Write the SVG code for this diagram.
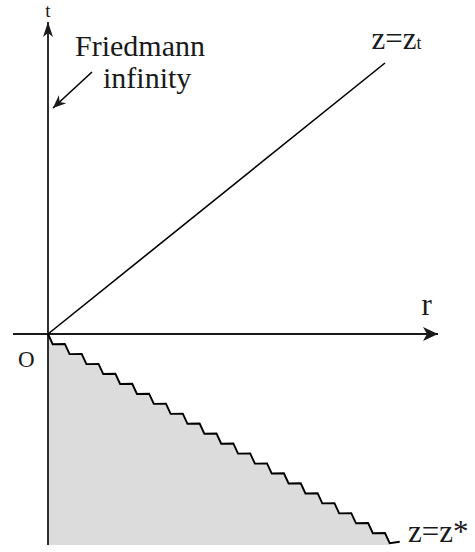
<svg xmlns="http://www.w3.org/2000/svg" width="475" height="552" viewBox="0 0 475 552">
<style>
.ax{stroke:#1a1a1a;stroke-width:1.8;fill:none}
.ln{stroke:#000;stroke-width:1.6;fill:none}
.zz{stroke:#000;stroke-width:1.9;fill:none;stroke-linejoin:miter}
.lab{font-family:"Liberation Serif","Times New Roman",serif;fill:#1a1a1a}
</style>
<defs>
<marker id="ahV" markerUnits="userSpaceOnUse" viewBox="-16 -8 17 16" refX="0" refY="0" markerWidth="17" markerHeight="16" orient="auto">
<path d="M0,0 L-15,-5 L-11,0 L-15,5 Z" fill="#1a1a1a"/>
</marker>
<marker id="ahH" markerUnits="userSpaceOnUse" viewBox="-16 -8 17 16" refX="0" refY="0" markerWidth="17" markerHeight="16" orient="auto">
<path d="M0,0 L-15,-7 L-11,0 L-15,7 Z" fill="#1a1a1a"/>
</marker>
<marker id="ahS" markerUnits="userSpaceOnUse" viewBox="-14 -7 15 14" refX="0" refY="0" markerWidth="15" markerHeight="14" orient="auto">
<path d="M0,0 L-13,-5.5 L-9,0 L-13,5.5 Z" fill="#1a1a1a"/>
</marker>
</defs>

<g id="region">
<path fill="#dcdcdc" stroke="none" d="M48,334 l4.7,10.2 12.15,-0.25 4.7,10.2 12.15,-0.25 4.7,10.2 12.15,-0.25 4.7,10.2 12.15,-0.25 4.7,10.2 12.15,-0.25 4.7,10.2 12.15,-0.25 4.7,10.2 12.15,-0.25 4.7,10.2 12.15,-0.25 4.7,10.2 12.15,-0.25 4.7,10.2 12.15,-0.25 4.7,10.2 12.15,-0.25 4.7,10.2 12.15,-0.25 4.7,10.2 12.15,-0.25 4.7,10.2 12.15,-0.25 4.7,10.2 12.15,-0.25 4.7,10.2 12.15,-0.25 4.7,10.2 12.15,-0.25 4.7,10.2 12.15,-0.25 4.7,10.2 12.15,-0.25 4.7,10.2 12.15,-0.25 4.7,10.2 V545 H48 Z"/>
</g>

<g id="connectors">
<line id="t-axis" class="ax" x1="48" y1="545" x2="48" y2="22" marker-end="url(#ahV)"/>
<line id="r-axis" class="ax" x1="13" y1="334" x2="438" y2="334" marker-end="url(#ahH)"/>
<line id="zt-line" class="ln" x1="48" y1="334" x2="385" y2="63"/>
<path id="zstar-line" class="zz" d="M48,334 l4.7,10.2 12.15,-0.25 4.7,10.2 12.15,-0.25 4.7,10.2 12.15,-0.25 4.7,10.2 12.15,-0.25 4.7,10.2 12.15,-0.25 4.7,10.2 12.15,-0.25 4.7,10.2 12.15,-0.25 4.7,10.2 12.15,-0.25 4.7,10.2 12.15,-0.25 4.7,10.2 12.15,-0.25 4.7,10.2 12.15,-0.25 4.7,10.2 12.15,-0.25 4.7,10.2 12.15,-0.25 4.7,10.2 12.15,-0.25 4.7,10.2 12.15,-0.25 4.7,10.2 12.15,-0.25 4.7,10.2 12.15,-0.25 4.7,10.2 12.15,-0.25 4.7,10.2 12.15,-0.25 4.7,10.2 12.15,-0.25 4.7,10.2 10,-1.5"/>
<line id="friedmann-arrow" class="ln" x1="92" y1="72" x2="53" y2="108" marker-end="url(#ahS)"/>
</g>

<g id="labels">
<text class="lab" x="48" y="17" font-size="19" text-anchor="middle">t</text>
<text class="lab" x="75" y="56" font-size="30">Friedmann</text>
<text class="lab" x="103" y="88" font-size="30">infinity</text>
<text class="lab" x="371.5" y="48.5" font-size="31">z=z<tspan font-size="18">t</tspan></text>
<text class="lab" x="421.5" y="315" font-size="31">r</text>
<text class="lab" x="18" y="367" font-size="23">O</text>
<text class="lab" x="408" y="542" font-size="31">z=z*</text>
</g>
</svg>
